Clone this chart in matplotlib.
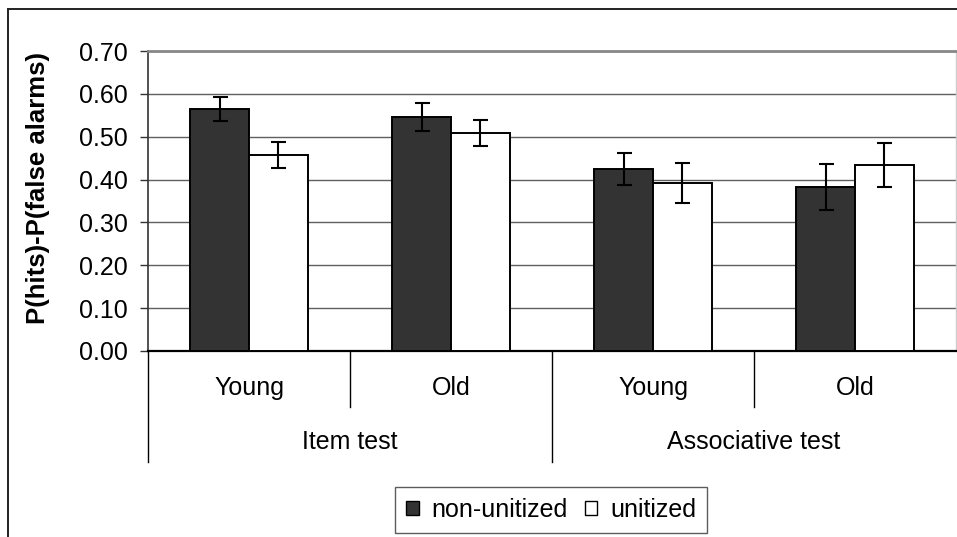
import matplotlib
matplotlib.use("Agg")
import matplotlib.pyplot as plt
from matplotlib.patches import Patch
from matplotlib.lines import Line2D
import numpy as np

plt.rcParams['font.family'] = ['Liberation Sans', 'DejaVu Sans']

# Data
groups = ["Item test", "Associative test"]
ages = ["Young", "Old", "Young", "Old"]
non_unitized = [0.565, 0.546, 0.425, 0.383]
unitized = [0.457, 0.509, 0.392, 0.434]
err_non_unitized = [0.028, 0.033, 0.037, 0.053]
err_unitized = [0.030, 0.030, 0.047, 0.051]
yticks = [0.0, 0.1, 0.2, 0.3, 0.4, 0.5, 0.6, 0.7]

W, H = 957, 537
fig = plt.figure(figsize=(W / 100, H / 100), dpi=100)
ax = fig.add_axes([148 / W, 1 - 351 / H, (956 - 148) / W, 300 / H])

x = np.arange(len(ages))
bw = 0.29
fs = 18

ax.bar(x - bw / 2, non_unitized, bw, color='#333333', edgecolor='black',
       linewidth=1.4, zorder=3, label='non-unitized')
ax.bar(x + bw / 2, unitized, bw, color='white', edgecolor='black',
       linewidth=1.4, zorder=3, label='unitized')
ax.errorbar(x - bw / 2, non_unitized, yerr=err_non_unitized, fmt='none',
            ecolor='black', elinewidth=1.5, capsize=5.4, capthick=1.5, zorder=4)
ax.errorbar(x + bw / 2, unitized, yerr=err_unitized, fmt='none',
            ecolor='black', elinewidth=1.5, capsize=5.4, capthick=1.5, zorder=4)

ax.set_xlim(-0.5, 3.5)
ax.set_ylim(0, 0.70)
ax.set_yticks(yticks)
ax.set_yticklabels([f"{v:.2f}" for v in yticks], fontsize=fs)
ax.set_xticks([])
ax.set_axisbelow(True)
ax.yaxis.grid(True, color='#5f5f5f', linewidth=1.0)
ax.tick_params(axis='y', direction='out', length=5.5, width=1.0,
               color='#333333', pad=9)

ax.spines['left'].set_color('#333333')
ax.spines['left'].set_linewidth(1.2)
ax.spines['bottom'].set_color('black')
ax.spines['bottom'].set_linewidth(1.6)
ax.spines['top'].set_color('#888888')
ax.spines['top'].set_linewidth(2.0)
ax.spines['right'].set_color('#cccccc')
ax.spines['right'].set_linewidth(1.0)

ax.set_ylabel("P(hits)-P(false alarms)", fontsize=18.5, fontweight='bold')
ax.yaxis.set_label_coords(-(148 - 50) / (956 - 148), (351 - 188) / 300)

# Two-level category axis
trans = ax.get_xaxis_transform()
sub_depth = -(407 - 351) / 300
grp_depth = -(462 - 351) / 300
for b in [0.5, 2.5]:
    ax.plot([b, b], [0, sub_depth], transform=trans, color='black',
            linewidth=1.0, clip_on=False)
for b in [-0.5, 1.5]:
    ax.plot([b, b], [0, grp_depth], transform=trans, color='black',
            linewidth=1.0, clip_on=False)
for xi, lab in zip(x, ages):
    ax.text(xi, -(388 - 351) / 300, lab, transform=trans, ha='center',
            va='center', fontsize=fs)
for gi, g in enumerate(groups):
    ax.text(2 * gi + 0.5, -(442 - 351) / 300, g, transform=trans,
            ha='center', va='center', fontsize=fs)

# Legend
handles = [Patch(facecolor='#333333', edgecolor='black', linewidth=1.0),
           Patch(facecolor='white', edgecolor='black', linewidth=1.0)]
leg = fig.legend(handles, ['non-unitized', 'unitized'], loc='center',
                 bbox_to_anchor=(551 / W, 1 - 510 / H), ncol=2, fontsize=fs,
                 frameon=True, fancybox=False, handlelength=0.5,
                 handleheight=0.5, handletextpad=0.5, columnspacing=0.7,
                 borderpad=0.45, borderaxespad=0)
leg.get_frame().set_edgecolor('#333333')
leg.get_frame().set_linewidth(1.0)

# Outer chart border (left and top edges)
fig.add_artist(Line2D([8 / W, 8 / W], [1 - 9 / H, 0], transform=fig.transFigure,
                      color='#222222', linewidth=1.4))
fig.add_artist(Line2D([8 / W, 1], [1 - 9 / H, 1 - 9 / H], transform=fig.transFigure,
                      color='#222222', linewidth=1.4))

fig.savefig("out.png", dpi=100)
